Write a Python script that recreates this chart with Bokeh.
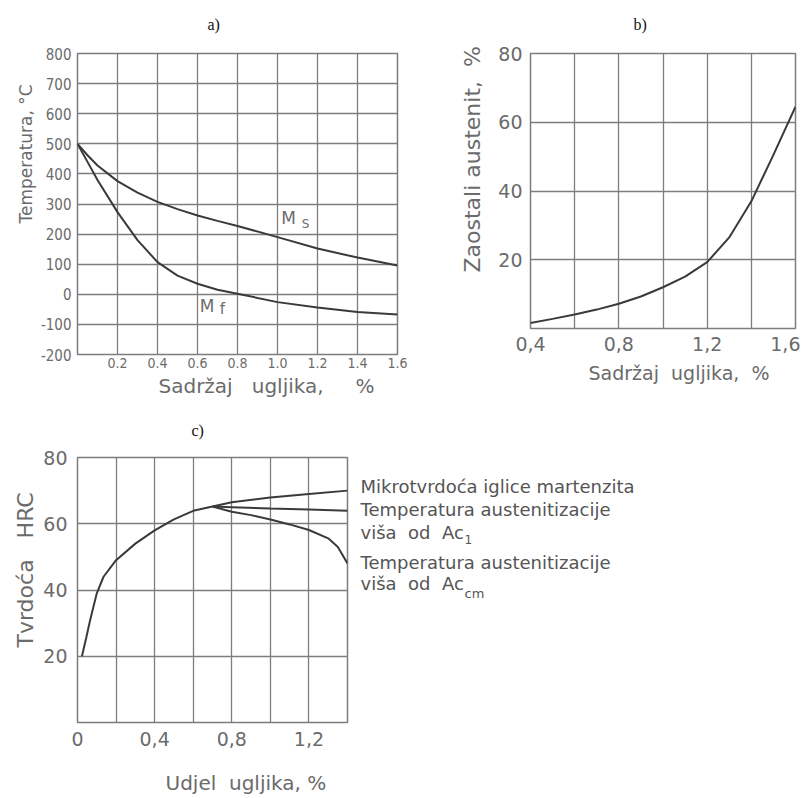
import math
from bokeh.plotting import figure
from bokeh.models import Range1d, FixedTicker, Label, Title
from bokeh.layouts import column, row
from bokeh.embed import file_html
from bokeh.resources import INLINE

# ---------------- data ----------------
# a) Ms / Mf temperatures vs carbon content
a_carbon = [0, 0.05, 0.1, 0.2, 0.3, 0.4, 0.5, 0.6, 0.7, 0.8, 1.0, 1.2, 1.4, 1.6]
a_ms = [500, 462, 428, 376, 338, 307, 283, 262, 244, 227, 190, 152, 122, 96]
a_mf = [500, 440, 380, 273, 180, 107, 62, 35, 15, 2, -26, -44, -59, -67]
a_xticks = [0.2, 0.4, 0.6, 0.8, 1.0, 1.2, 1.4, 1.6]
a_xlabels = {1.0: "1.0"}
a_yticks = [-200, -100, 0, 100, 200, 300, 400, 500, 600, 700, 800]
a_ylabels = {-200: "-200", -100: "-100", 0: "0"}

# b) retained austenite vs carbon content
b_carbon = [0.4, 0.5, 0.6, 0.7, 0.8, 0.9, 1.0, 1.1, 1.2, 1.3, 1.4, 1.5, 1.6]
b_austenite = [1.6, 2.8, 4.1, 5.5, 7.2, 9.3, 12, 15.1, 19.3, 26.5, 37, 50.5, 64.5]
b_xticks = [0.4, 0.8, 1.2, 1.6]
b_xlabels = {0.4: "0,4", 0.8: "0,8", 1.2: "1,2", 1.6: "1,6"}
b_xgrid = [0.4, 0.6, 0.8, 1.0, 1.2, 1.4, 1.6]
b_yticks = [20, 40, 60, 80]

# c) hardness vs carbon content
c_main_x = [0.023, 0.045, 0.066, 0.1, 0.135, 0.2, 0.3, 0.4, 0.5, 0.6, 0.7]
c_main_y = [20, 25.5, 31, 39, 44, 49, 54, 58, 61.3, 63.9, 65.2]
c_branch_x = [0.7, 0.8, 1.0, 1.2, 1.4]
c_upper_y = [65.2, 66.5, 67.9, 69, 70]
c_middle_y = [65.2, 65, 64.6, 64.3, 63.9]
c_lower_x = [0.7, 0.8, 0.9, 1.0, 1.1, 1.2, 1.3, 1.35, 1.4]
c_lower_y = [65.2, 63.6, 62.6, 61.3, 59.8, 58.1, 55.6, 53, 48]
c_xticks = [0, 0.4, 0.8, 1.2]
c_xlabels = {0: "0", 0.4: "0,4", 0.8: "0,8", 1.2: "1,2"}
c_xgrid = [0, 0.2, 0.4, 0.6, 0.8, 1.0, 1.2, 1.4]
c_yticks = [20, 40, 60, 80]
c_ygrid = [0, 20, 40, 60, 80]

# ---------------- style ----------------
GRID = "#7d7d7d"
CURVE = "#3a3a3a"
TXT = "#6b6b6b"
SANS = "DejaVu Sans"
NARROW = "DejaVu Sans Condensed"
SERIF = "Liberation Serif"
NB = "\u00a0"


def base(width, height, xr, yr, bl, br, bt, bb):
    p = figure(width=width, height=height, x_range=Range1d(*xr), y_range=Range1d(*yr),
               output_backend="svg", toolbar_location=None,
               min_border_left=bl, min_border_right=br, min_border_top=bt, min_border_bottom=bb)
    p.background_fill_color = "white"
    p.border_fill_color = "white"
    p.outline_line_color = GRID
    p.outline_line_width = 1.5
    for ax in (p.xaxis[0], p.yaxis[0]):
        ax.axis_line_color = None
        ax.major_tick_line_color = None
        ax.minor_tick_line_color = None
        ax.major_tick_out = 0
        ax.major_tick_in = 0
        ax.axis_label = None
        ax.major_label_text_color = TXT
    p.xgrid.grid_line_color = GRID
    p.ygrid.grid_line_color = GRID
    p.xgrid.grid_line_width = 1.3
    p.ygrid.grid_line_width = 1.3
    return p


def lab(p, x, y, text, size, font=SANS, color=TXT, align="center"):
    p.add_layout(Label(x=x, y=y, text=text, text_font=font, text_font_size=size,
                       text_color=color, text_align=align, text_baseline="middle"))


def side_title(p, text, side, size, offset, standoff, font=SANS, color=TXT, valign="bottom"):
    p.add_layout(Title(text=text, align="left", offset=offset, standoff=standoff,
                       vertical_align=valign, text_font=font, text_font_size=size,
                       text_font_style="normal", text_color=color), side)


def gap(p, side, px):
    # an empty title used only as vertical space between the frame and a caption
    p.add_layout(Title(text=NB, text_font_size="1px", standoff=max(px - 3, 0)), side)


# ---------------- panel a ----------------
pa = base(428, 406, (0, 1.6), (-200, 800), 77, 31, 53, 52)
pa.xaxis.ticker = FixedTicker(ticks=a_xticks)
pa.xaxis.major_label_overrides = a_xlabels
pa.yaxis.ticker = FixedTicker(ticks=a_yticks)
pa.yaxis.major_label_overrides = a_ylabels
pa.xaxis.major_label_text_font = NARROW
pa.yaxis.major_label_text_font = NARROW
pa.xaxis.major_label_text_font_size = "14px"
pa.yaxis.major_label_text_font_size = "15px"
pa.xaxis.major_label_standoff = 3
pa.yaxis.major_label_standoff = 6
pa.xgrid.ticker = FixedTicker(ticks=a_xticks)
pa.ygrid.ticker = FixedTicker(ticks=a_yticks)
pa.line(a_carbon, a_ms, line_color=CURVE, line_width=2)
pa.line(a_carbon, a_mf, line_color=CURVE, line_width=2)
lab(pa, 1.055, 252, "M", "17px")
lab(pa, 1.14, 234, "S", "12px")
lab(pa, 0.648, -38, "M", "17px")
lab(pa, 0.725, -48, "f", "15px")
gap(pa, "above", 21)
side_title(pa, "a)", "above", "16px", 130, 0, font=SERIF, color="#111111")
side_title(pa, "Temperatura," + NB + "\u00b0C", "left", "17px", 131, 4)
side_title(pa, "Sadržaj" + NB * 3 + "ugljika," + NB * 5 + "%", "below", "20px", 81, 6, valign="top")

# ---------------- panel b ----------------
pb = base(372, 398, (0.4, 1.6), (0, 80), 102, 5, 53, 70)
pb.xaxis.ticker = FixedTicker(ticks=b_xticks)
pb.xaxis.major_label_overrides = b_xlabels
pb.yaxis.ticker = FixedTicker(ticks=b_yticks)
pb.xgrid.ticker = FixedTicker(ticks=b_xgrid)
pb.ygrid.ticker = FixedTicker(ticks=b_yticks)
pb.xaxis.major_label_text_font = SANS
pb.yaxis.major_label_text_font = SANS
pb.xaxis.major_label_text_font_size = "19px"
pb.yaxis.major_label_text_font_size = "19px"
pb.xaxis.major_label_standoff = 8
pb.yaxis.major_label_standoff = 8
pb.line(b_carbon, b_austenite, line_color=CURVE, line_width=2)
gap(pb, "above", 21)
side_title(pb, "b)", "above", "16px", 103, 0, font=SERIF, color="#111111")
side_title(pb, "Zaostali" + NB + "austenit," + NB * 2 + "%", "left", "22px", 56, 22)
side_title(pb, "Sadržaj" + NB * 2 + "ugljika," + NB * 2 + "%", "below", "19px", 58, 16, valign="top")

# ---------------- panel c ----------------
pc = base(355, 392, (0, 1.4), (0, 80), 77, 8, 51, 76)
pc.xaxis.ticker = FixedTicker(ticks=c_xticks)
pc.xaxis.major_label_overrides = c_xlabels
pc.yaxis.ticker = FixedTicker(ticks=c_yticks)
pc.xgrid.ticker = FixedTicker(ticks=c_xgrid)
pc.ygrid.ticker = FixedTicker(ticks=c_ygrid)
pc.xaxis.major_label_text_font = SANS
pc.yaxis.major_label_text_font = SANS
pc.xaxis.major_label_text_font_size = "19px"
pc.yaxis.major_label_text_font_size = "19px"
pc.xaxis.major_label_standoff = 9
pc.yaxis.major_label_standoff = 10
pc.line(c_main_x, c_main_y, line_color=CURVE, line_width=2)
pc.line(c_branch_x, c_upper_y, line_color=CURVE, line_width=2)
pc.line(c_branch_x, c_middle_y, line_color=CURVE, line_width=2)
pc.line(c_lower_x, c_lower_y, line_color=CURVE, line_width=2)
gap(pc, "above", 19)
side_title(pc, "c)", "above", "16px", 114, 0, font=SERIF, color="#111111")
side_title(pc, "Tvrdoća" + NB * 3 + "HRC", "left", "22px", 75, 5)
gap(pc, "below", 20)
side_title(pc, "Udjel" + NB * 2 + "ugljika," + NB + "%", "below", "20px", 88, 0, valign="bottom")

# legend texts of panel c, in their own blank figure with the same vertical scale
pl = figure(width=450, height=392, x_range=Range1d(0, 450), y_range=Range1d(0, 80),
            output_backend="svg", toolbar_location=None, x_axis_location=None,
            y_axis_location=None, min_border_left=0, min_border_right=0,
            min_border_top=51, min_border_bottom=76)
pl.outline_line_color = None
pl.grid.visible = False
pl.background_fill_color = "white"
pl.border_fill_color = "white"
LEG = "#555555"
lab(pl, 5, 71.1, "Mikrotvrdoća" + NB + "iglice" + NB + "martenzita", "18px", color=LEG, align="left")
lab(pl, 5, 64.4, "Temperatura" + NB + "austenitizacije", "18px", color=LEG, align="left")
lab(pl, 5, 57.5, "viša" + NB * 2 + "od" + NB * 2 + "Ac", "18px", color=LEG, align="left")
lab(pl, 109, 55.3, "1", "12px", color=LEG, align="left")
lab(pl, 5, 48.4, "Temperatura" + NB + "austenitizacije", "18px", color=LEG, align="left")
lab(pl, 5, 42.1, "viša" + NB * 2 + "od" + NB * 2 + "Ac", "18px", color=LEG, align="left")
lab(pl, 109, 39.0, "cm", "13px", color=LEG, align="left")

layout = column(row(column(pa), column(pb)), row(pc, pl))
open("out.html", "w").write(file_html(layout, INLINE))
